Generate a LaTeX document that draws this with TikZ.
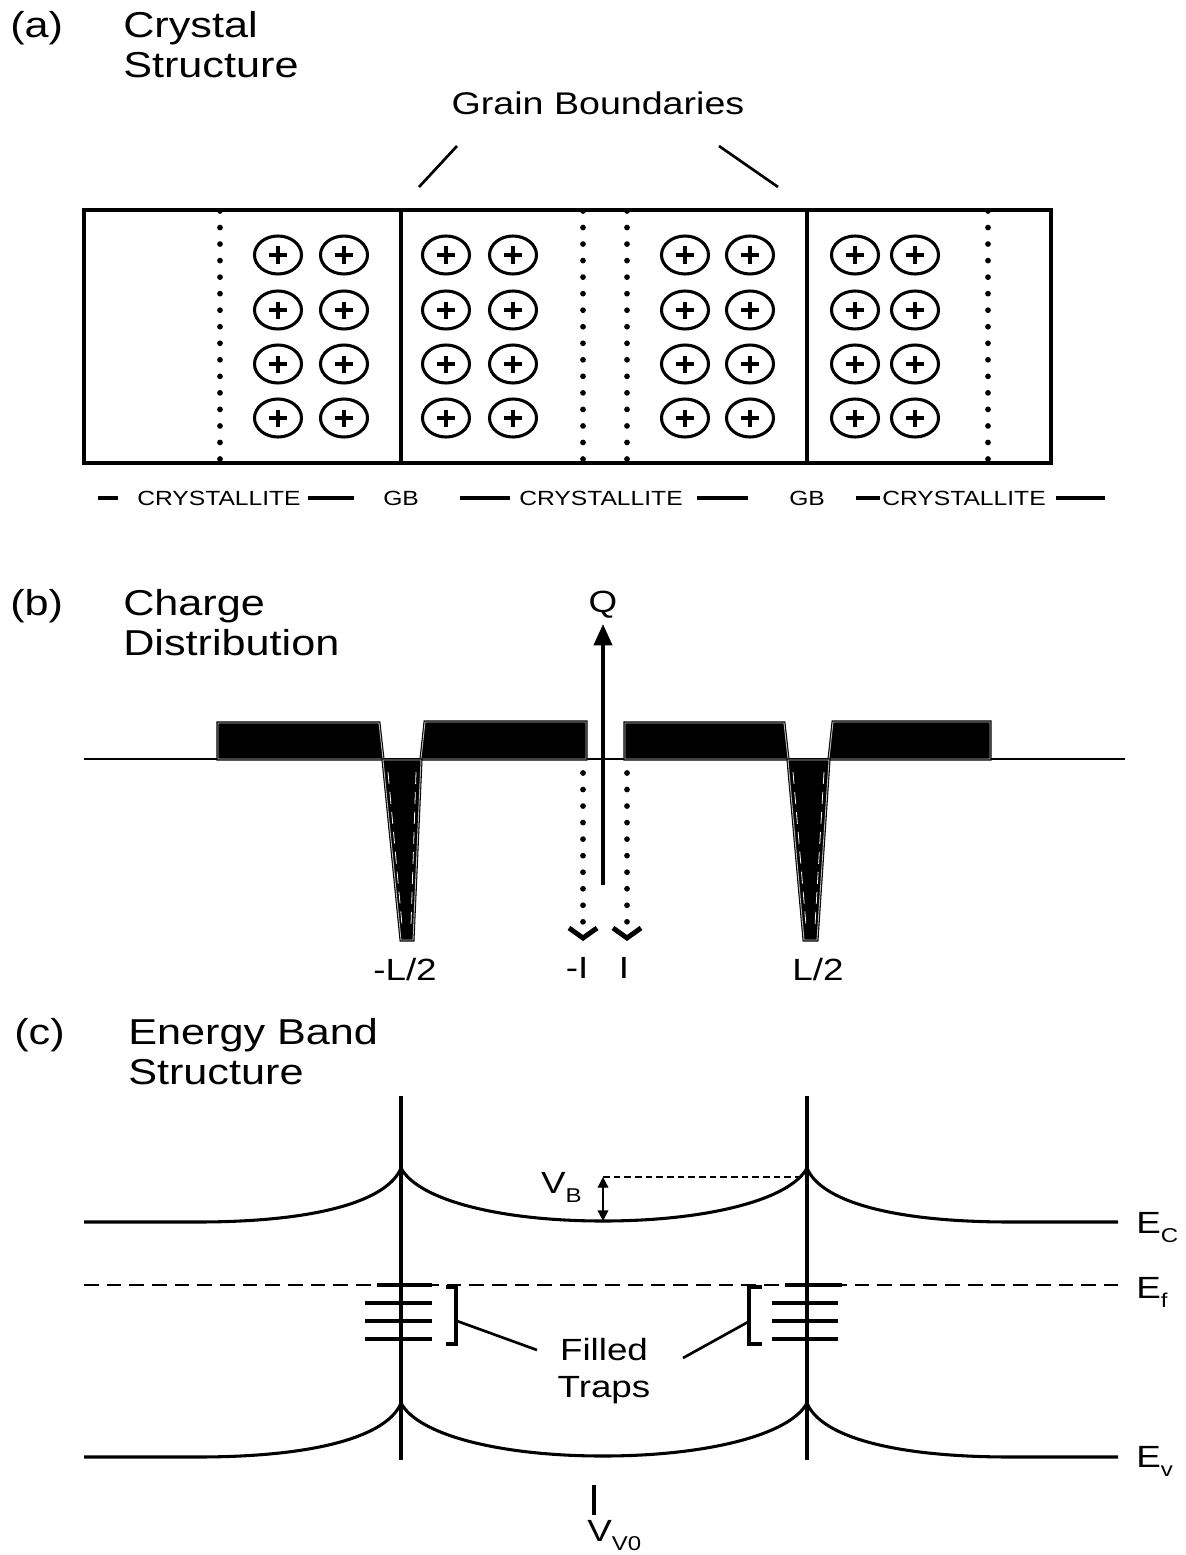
\documentclass[tikz,border=0pt]{standalone}
\usepackage{fontspec}
\setmainfont{Liberation Sans}[FakeStretch=1.2]
\usetikzlibrary{arrows.meta}
\newcommand{\lowsub}[1]{\raisebox{-7pt}{\fontsize{15pt}{15pt}\selectfont #1}}
\begin{document}
\begin{tikzpicture}[x=0.75pt,y=-0.75pt,
  ln/.style={line width=2.5pt},
  thinln/.style={line width=2pt},
  dotline/.style={line width=4.3pt, line cap=round, dash pattern=on 0pt off 12.4pt},
  bar/.style={fill=black, draw=black, line width=0.8pt, double=gray!55, double distance=0.7pt},
  ttl/.style={anchor=base west, inner sep=0pt, font=\fontsize{27pt}{30pt}\selectfont},
  lab/.style={anchor=base, inner sep=0pt, font=\fontsize{23pt}{26pt}\selectfont},
  small/.style={anchor=base west, inner sep=0pt, font=\fontsize{15.4pt}{18pt}\selectfont},
  chev/.style={line width=3.7pt, line join=miter},
  tip/.style={-{Triangle[width=13.5pt,length=16pt]}}]
\useasboundingbox (0,0) rectangle (1185,1555);
\fill[white] (0,0) rectangle (1185,1555);

% ---------------- (a) ----------------
\node[ttl] (ta) at (10,38) {(a)};
\node[ttl] (ta1) at (123,38) {Crystal};
\node[ttl] (ta2) at (123,78) {Structure};
\node[lab, font=\fontsize{23.5pt}{26pt}\selectfont] (gbl) at (598,115) {Grain Boundaries};
\coordinate (g1a) at (457,146); \coordinate (g1b) at (419,187);
\coordinate (g2a) at (719,146); \coordinate (g2b) at (778,187);
\draw[thinln] (g1a) -- (g1b);
\draw[thinln] (g2a) -- (g2b);

\draw[ln] (84,210) rectangle (1051,463);
\draw[ln] (401,210) -- (401,463);
\draw[ln] (807,210) -- (807,463);
\foreach \dx in {220,583,627,988} \draw[dotline] (\dx,211) -- (\dx,463);

\foreach \cx in {278,344,446,513,685,750,855,915}
 \foreach \cy in {255,310,364,418} {
   \draw[line width=2.3pt] (\cx,\cy) ellipse [x radius=23.5, y radius=19];
   \draw[line width=2.5pt] (\cx-9,\cy) -- (\cx+9,\cy) (\cx,\cy-8.5) -- (\cx,\cy+8.5);
 }

% labels under box
\foreach \a/\b in {98/118,308/354,460/510,697/748,856/880,1056/1105}
  \draw[line width=2.4pt] (\a,498) -- (\b,498);
\node[small] (c1) at (137,505) {CRYSTALLITE};
\node[small] (gb1) at (383,505) {GB};
\node[small] (c2) at (519,505) {CRYSTALLITE};
\node[small] (gb2) at (789,505) {GB};
\node[small] (c3) at (882,505) {CRYSTALLITE};

% ---------------- (b) ----------------
\node[ttl] (tb) at (10,615) {(b)};
\node[ttl] (tb1) at (123,615) {Charge};
\node[ttl] (tb2) at (123,655) {Distribution};
\node[lab] (Q) at (603,612) {Q};

\draw[thinln] (84,759) -- (1125,759);
\path[bar] (218,759) -- (218,723) -- (379,723) -- (383,759) -- cycle;
\path[bar] (421,759) -- (425,722) -- (586,722) -- (586,759) -- cycle;
\path[bar] (625,759) -- (625,723) -- (784,723) -- (788,759) -- cycle;
\path[bar] (829,759) -- (833,722) -- (990,722) -- (990,759) -- cycle;
\path[bar] (383,760) -- (421,760) -- (413,940) -- (401,940) -- cycle;
\path[bar] (788,760) -- (829,760) -- (817,940) -- (804,940) -- cycle;
\draw[white, line width=0.6pt, dash pattern=on 9pt off 6pt] (388,772) -- (402,925) (416,772) -- (411,925);
\draw[white, line width=0.6pt, dash pattern=on 9pt off 6pt] (793,772) -- (806,925) (824,772) -- (815,925);

\coordinate (qb) at (603,885); \coordinate (qt) at (603,624);
\draw[line width=3pt, tip] (qb) -- (qt);

\coordinate (d1a) at (583,773); \coordinate (d1b) at (583,922);
\coordinate (d2a) at (627,773); \coordinate (d2b) at (627,922);
\draw[dotline] (d1a) -- (d1b);
\draw[dotline] (d2a) -- (d2b);
\draw[chev] (569,928) -- (583,938) -- (597,928);
\draw[chev] (613,928) -- (627,938) -- (641,928);

\node[lab] (mL) at (405,980) {-L/2};
\node[lab] (mI) at (577,978) {-I};
\node[lab] (pI) at (624,978) {I};
\node[lab] (pL) at (818,980) {L/2};

% ---------------- (c) ----------------
\node[ttl] (tc) at (14,1044) {(c)};
\node[ttl] (tc1) at (128,1044) {Energy Band};
\node[ttl] (tc2) at (128,1084) {Structure};

\draw[line width=3pt] (401,1096) -- (401,1460);
\draw[line width=3pt] (807,1096) -- (807,1460);

\foreach \s in {0,235} {
 \begin{scope}[yshift=-\s*0.75pt]
  \draw[line width=2.3pt] (84,1222) -- (197,1222) .. controls (320,1222) and (388,1200) .. (401,1168)
     .. controls (418,1200) and (500,1221) .. (603,1221)
     .. controls (706,1221) and (790,1200) .. (807,1168)
     .. controls (820,1200) and (888,1222) .. (1011,1222) -- (1118,1222);
 \end{scope}
}
\draw[line width=2pt, dash pattern=on 11pt off 6pt] (84,1285) -- (1118,1285);

\node[lab, anchor=base west] (EC) at (1136,1233) {E\lowsub{C}};
\node[lab, anchor=base west] (Ef) at (1136,1298) {E\lowsub{f}};
\node[lab, anchor=base west] (Ev) at (1136,1467) {E\lowsub{v}};

% V_B
\coordinate (vbt) at (603,1177); \coordinate (vbb) at (603,1221); \coordinate (vbr) at (805,1177);
\draw[line width=1.5pt, dash pattern=on 5pt off 3pt] (vbt) -- (vbr);
\draw[line width=1pt, {Triangle[width=8pt,length=8pt]}-{Triangle[width=8pt,length=8pt]}] (vbt) -- (vbb);
\node[lab, anchor=base east] (VB) at (582,1193) {V\lowsub{B}};

% traps
\draw[line width=2.3pt] (377,1285) -- (432,1285);
\draw[line width=2.3pt] (785,1285) -- (842,1285);
\foreach \y in {1303,1321,1339} {
  \draw[line width=2.3pt] (365,\y) -- (432,\y);
  \draw[line width=2.3pt] (772,\y) -- (838,\y);
}
\draw[line width=3.7pt] (446,1287) -- (456,1287) -- (456,1344) -- (446,1344);
\draw[line width=3.7pt] (762,1287) -- (749,1287) -- (749,1344) -- (762,1344);
\node[lab] (fil) at (604,1360) {Filled};
\node[lab] (trp) at (604,1397) {Traps};
\coordinate (lbk) at (457,1321); \coordinate (lbe) at (537,1350);
\coordinate (rbk) at (748,1322); \coordinate (rbe) at (683,1358);
\draw[thinln] (lbk) -- (lbe);
\draw[thinln] (rbk) -- (rbe);

% V_V0
\draw[line width=3pt] (594,1485) -- (594,1515);
\node[lab, anchor=base west] (VV) at (587,1541) {V\lowsub{V0}};
\end{tikzpicture}
\end{document}
